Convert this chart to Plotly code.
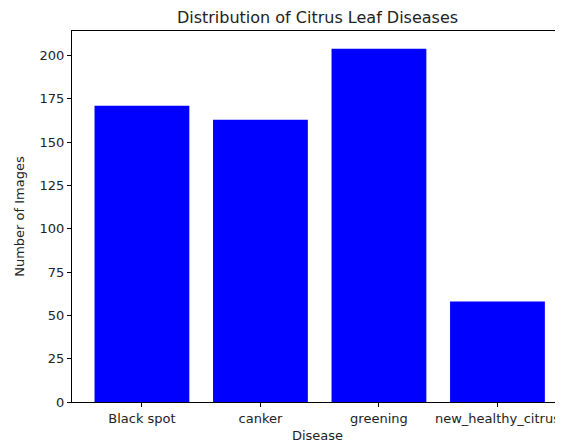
import plotly.graph_objects as go

categories = ["Black spot", "canker", "greening", "new_healthy_citrus"]
counts = [171, 163, 204, 58]
y_ticks = [0, 25, 50, 75, 100, 125, 150, 175, 200]

fig = go.Figure()
fig.add_trace(go.Bar(
    x=list(range(len(categories))), y=counts,
    width=0.8, marker=dict(color="#0000ff", line=dict(width=0)),
))

W, H = 555, 440  # page body has an 8px margin
font = dict(family="DejaVu Sans", size=13, color="#222")
fig.update_layout(
    width=W, height=H,
    margin=dict(l=64, r=0, t=23, b=46, autoexpand=False),
    paper_bgcolor="white", plot_bgcolor="white",
    showlegend=False,
    font=font,
    title=dict(text="Distribution of Citrus Leaf Diseases", x=0.5, xref="paper",
               y=1 - 9 / H, yanchor="middle", xanchor="center",
               font=dict(family="DejaVu Sans", size=16, color="#222")),
)
fig.update_xaxes(
    range=[-0.59, 3.553], tickmode="array",
    tickvals=list(range(len(categories))), ticktext=categories,
    showline=True, linecolor="black", linewidth=1, mirror=True,
    ticks="outside", ticklen=4, tickcolor="black", showgrid=False, zeroline=False,
    title=dict(text="Disease", standoff=6, font=font),
)
fig.update_yaxes(
    range=[0, 214.2], tickmode="array", tickvals=y_ticks,
    showline=True, linecolor="black", linewidth=1, mirror=False,
    ticks="outside", ticklen=4, tickcolor="black", showgrid=False, zeroline=False,
    title=dict(text="Number of Images", standoff=12, font=font),
)
fig.write_html("out.html")
